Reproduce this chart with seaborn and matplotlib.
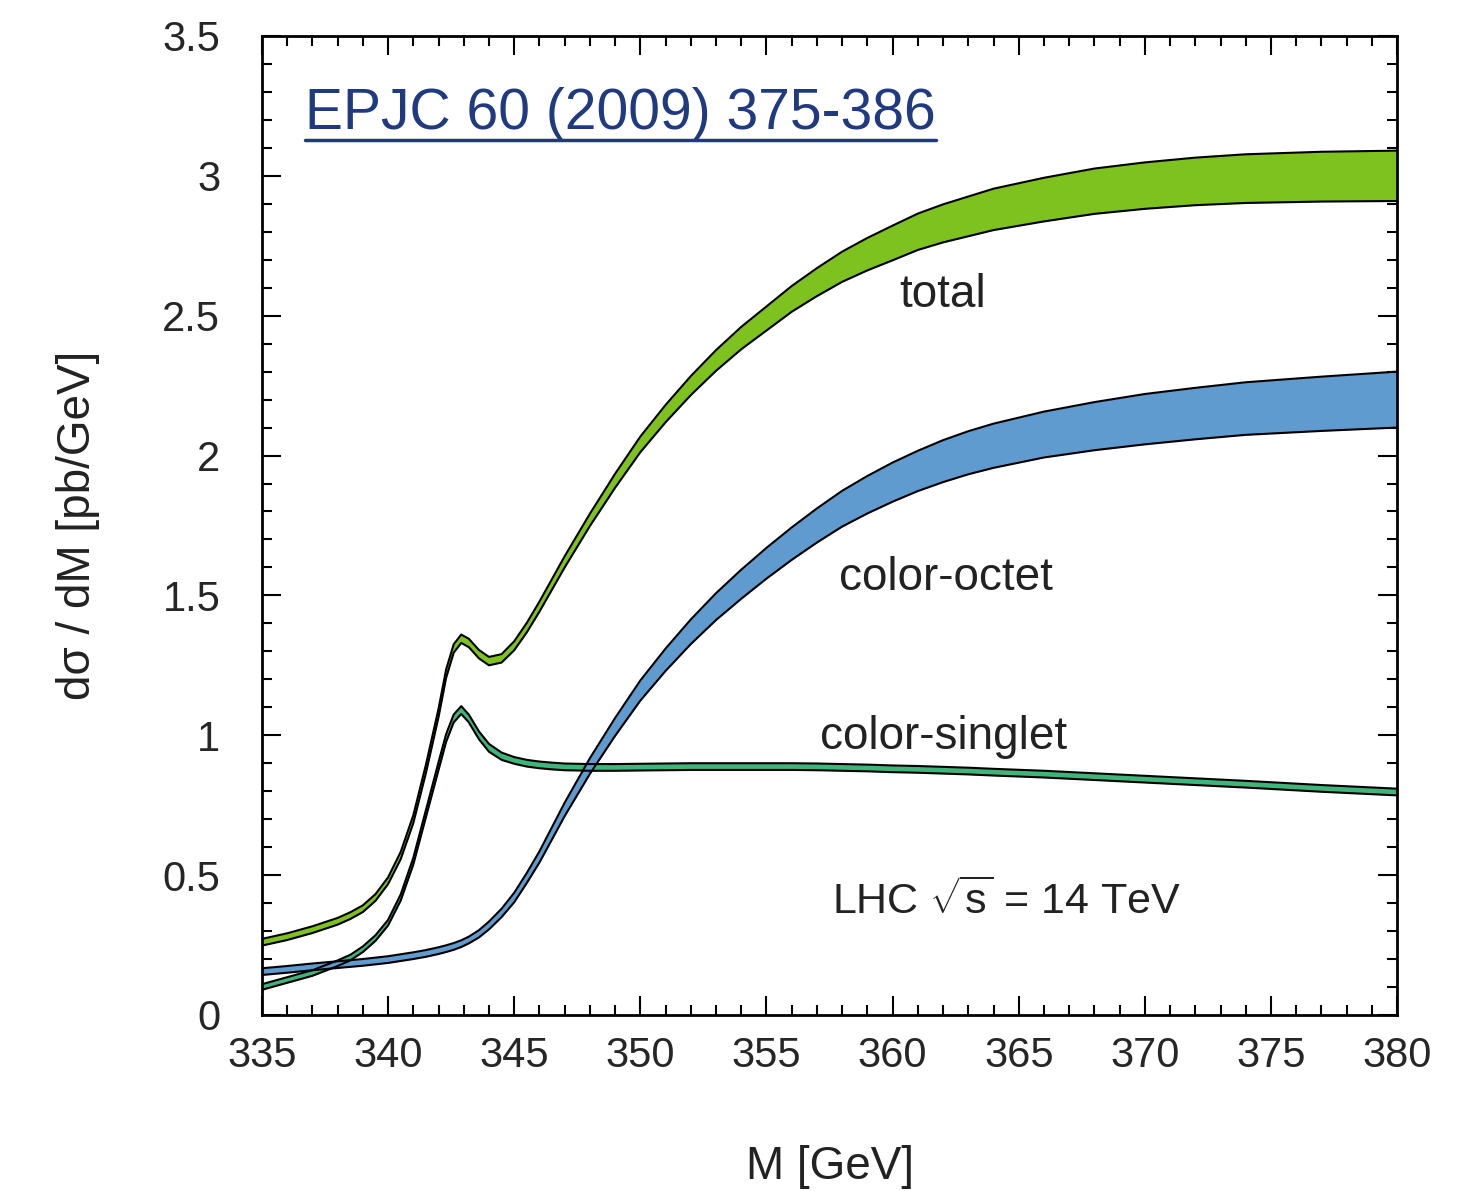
import numpy as np
import pandas as pd
import seaborn as sns
import matplotlib.pyplot as plt
from matplotlib.ticker import MultipleLocator

mass = [335, 336, 337, 338, 338.5, 339, 339.5, 340, 340.5, 341,
        341.5, 342, 342.3, 342.6, 342.9, 343.2, 343.6, 344, 344.5,
        345, 345.5, 346, 346.5, 347, 348, 349, 350, 351, 352, 353, 354,
        355, 356, 357, 358, 359, 360, 361, 362, 363, 364, 366, 368, 370,
        372, 374, 377, 380]

# central values (pb/GeV)
total = [0.26, 0.28, 0.305, 0.335, 0.355, 0.38, 0.42, 0.48, 0.57, 0.70,
         0.88, 1.08, 1.22, 1.31, 1.345, 1.33, 1.29, 1.265, 1.275,
         1.32, 1.385, 1.46, 1.54, 1.62, 1.77, 1.91, 2.04, 2.15, 2.25, 2.34, 2.42,
         2.49, 2.56, 2.62, 2.675, 2.72, 2.76, 2.80, 2.83, 2.855, 2.88, 2.915, 2.945, 2.965,
         2.98, 2.99, 2.997, 3.0]
octet = [0.155, 0.163, 0.172, 0.18, 0.184, 0.188, 0.193, 0.198, 0.205, 0.212,
         0.22, 0.23, 0.237, 0.245, 0.255, 0.268, 0.29, 0.32, 0.365,
         0.42, 0.49, 0.565, 0.65, 0.735, 0.89, 1.03, 1.16, 1.27, 1.37, 1.46, 1.54,
         1.615, 1.685, 1.75, 1.81, 1.86, 1.905, 1.945, 1.98, 2.01, 2.035, 2.075, 2.105, 2.13,
         2.15, 2.168, 2.185, 2.20]
singlet = [0.10, 0.125, 0.15, 0.185, 0.205, 0.235, 0.275, 0.33, 0.42, 0.55,
           0.72, 0.89, 0.99, 1.06, 1.09, 1.06, 1.00, 0.955, 0.925,
           0.91, 0.90, 0.894, 0.89, 0.887, 0.885, 0.885, 0.886, 0.887, 0.888, 0.888, 0.888,
           0.888, 0.888, 0.887, 0.885, 0.883, 0.88, 0.878, 0.875, 0.872, 0.868, 0.861, 0.852, 0.843,
           0.834, 0.825, 0.81, 0.797]

# half widths of the uncertainty bands
total_hw = [0.012, 0.012, 0.012, 0.012, 0.012, 0.012, 0.012, 0.012, 0.013, 0.014,
            0.015, 0.015, 0.015, 0.015, 0.015, 0.015, 0.015, 0.015, 0.015,
            0.016, 0.017, 0.018, 0.019, 0.02, 0.022, 0.025, 0.028, 0.031, 0.034, 0.037, 0.04,
            0.043, 0.046, 0.05, 0.054, 0.058, 0.062, 0.065, 0.068, 0.071, 0.074, 0.078, 0.081, 0.083,
            0.085, 0.087, 0.089, 0.09]
octet_hw = [0.012, 0.012, 0.012, 0.012, 0.012, 0.012, 0.012, 0.012, 0.012, 0.012,
            0.012, 0.012, 0.012, 0.012, 0.012, 0.012, 0.013, 0.014, 0.015,
            0.017, 0.018, 0.02, 0.022, 0.024, 0.028, 0.032, 0.036, 0.04, 0.044, 0.048, 0.052,
            0.055, 0.058, 0.061, 0.064, 0.067, 0.07, 0.072, 0.075, 0.077, 0.079, 0.082, 0.086, 0.09,
            0.092, 0.094, 0.097, 0.10]
singlet_hw = [0.01, 0.01, 0.01, 0.01, 0.01, 0.01, 0.01, 0.01, 0.011, 0.012,
              0.013, 0.014, 0.014, 0.014, 0.014, 0.014, 0.014, 0.014, 0.013,
              0.012, 0.012, 0.012, 0.012, 0.012, 0.012, 0.012, 0.012, 0.012, 0.012, 0.012, 0.012,
              0.012, 0.012, 0.012, 0.012, 0.012, 0.012, 0.012, 0.012, 0.012, 0.012, 0.012, 0.012, 0.012,
              0.012, 0.012, 0.012, 0.012]

bands = {
    'total': (total, total_hw, '#7dc21e'),
    'color-singlet': (singlet, singlet_hw, '#3fb57a'),
    'color-octet': (octet, octet_hw, '#5f9bcf'),
}

sns.set_theme(style='ticks')
plt.rcParams['font.family'] = ['Liberation Sans', 'DejaVu Sans']
plt.rcParams['mathtext.fontset'] = 'custom'
plt.rcParams['mathtext.rm'] = 'Liberation Sans'
plt.rcParams['mathtext.it'] = 'Liberation Sans:italic'

fig = plt.figure(figsize=(14.61, 11.91), dpi=100)
ax = fig.add_axes([0.1793, 0.1478, 0.777, 0.822])

for name, (center, hw, col) in bands.items():
    df = pd.DataFrame({'M': mass, 'c': center, 'hw': hw})
    df['lo'] = df['c'] - df['hw']
    df['hi'] = df['c'] + df['hw']
    ax.fill_between(df['M'], df['lo'], df['hi'], color=col, lw=0)
    sns.lineplot(data=df, x='M', y='lo', color='black', lw=1.5, ax=ax)
    sns.lineplot(data=df, x='M', y='hi', color='black', lw=1.5, ax=ax)

ax.set_xlim(335, 380)
ax.set_ylim(0, 3.5)
ax.xaxis.set_major_locator(MultipleLocator(5))
ax.xaxis.set_minor_locator(MultipleLocator(1))
ax.yaxis.set_minor_locator(MultipleLocator(0.1))
ax.set_yticks([0, 0.5, 1, 1.5, 2, 2.5, 3, 3.5])
ax.set_yticklabels(['0', '0.5', '1', '1.5', '2', '2.5', '3', '3.5'])

ax.tick_params(which='both', direction='in', top=True, right=True, width=1.5, color='black')
ax.tick_params(which='major', length=14)
ax.tick_params(which='minor', length=7)
ax.tick_params(axis='x', which='major', labelsize=30, pad=15)
ax.tick_params(axis='y', which='major', labelsize=30, pad=30)
for s in ax.spines.values():
    s.set_linewidth(2)
    s.set_color('black')

ax.set_xlabel('M [GeV]', fontsize=33, labelpad=50, color='#222222')
ax.set_ylabel('dσ / dM [pb/GeV]', fontsize=33, labelpad=45, color='#222222')

ax.text(362.0, 2.574, 'total', fontsize=33, ha='center', va='center', color='#222222')
ax.text(362.1, 1.562, 'color-octet', fontsize=33, ha='center', va='center', color='#222222')
ax.text(362.0, 0.994, 'color-singlet', fontsize=33, ha='center', va='center', color='#222222')
ax.text(364.5, 0.404, r'LHC $\sqrt{\mathrm{s}}$ = 14 TeV', fontsize=31, ha='center', va='center',
        color='#222222')

ref = ax.text(336.7, 3.22, 'EPJC 60 (2009) 375-386', fontsize=41, ha='left', va='center',
              color='#1f3a80')
fig.canvas.draw()
bb = ref.get_window_extent().transformed(ax.transData.inverted())
ax.plot([bb.x0, bb.x1], [bb.y0 + 0.005, bb.y0 + 0.005], color='#1f3a80', lw=2.5)

fig.savefig('out.png', dpi=100)
